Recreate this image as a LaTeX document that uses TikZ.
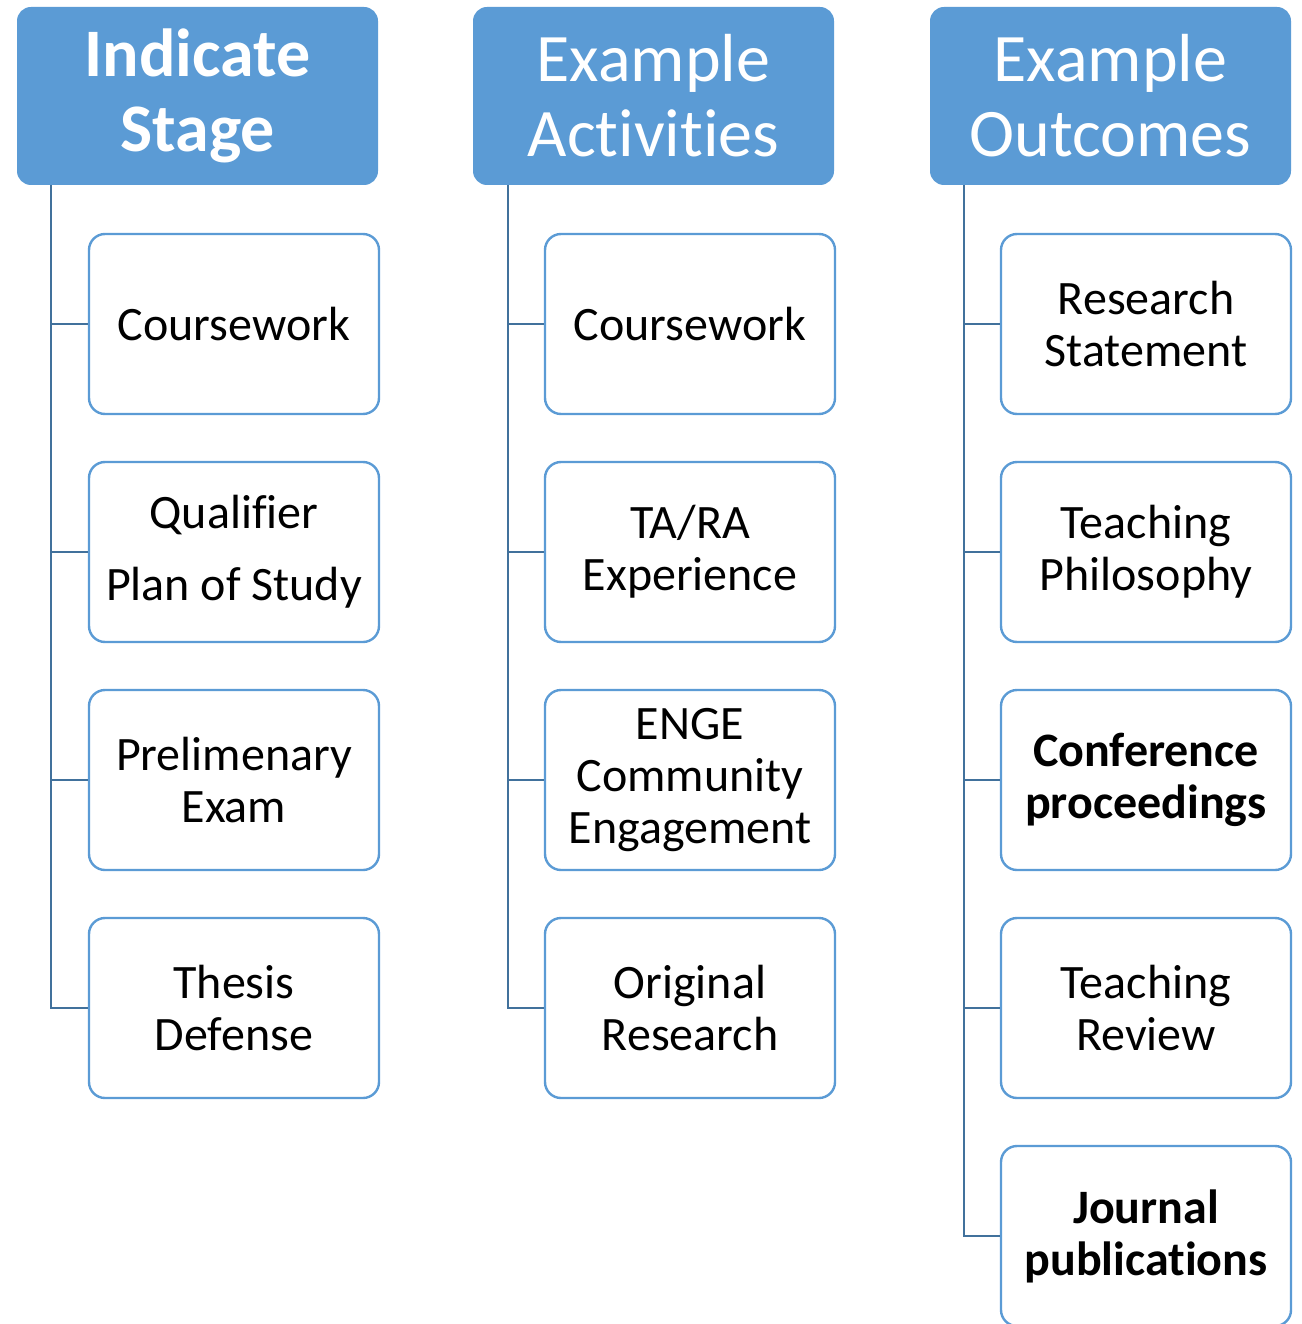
\documentclass[tikz,border=0pt]{standalone}
\usepackage{fontspec}
\setmainfont{Carlito}[Ligatures={NoCommon}]
\definecolor{hdrblue}{HTML}{5B9BD5}
\definecolor{linkblue}{HTML}{41719C}
\begin{document}
\begin{tikzpicture}[x=1pt,y=-1pt,
  header/.style={fill=hdrblue, draw=none, rounded corners=14pt,
    minimum width=361pt, minimum height=178pt, text=white,
    align=center, font=\fontsize{68}{75}\selectfont, inner sep=0pt},
  itembox/.style={draw=hdrblue, line width=2.4pt, fill=white, rounded corners=16pt,
    minimum width=290pt, minimum height=180pt, align=center,
    font=\fontsize{48}{52}\selectfont, inner sep=0pt},
  link/.style={draw=linkblue, line width=2.8pt}]
\useasboundingbox (0,0) rectangle (1301,1324);

% column headers
\node[header] (h1) at (197.5,96) {\bfseries Indicate\\\bfseries Stage};
\node[header] (h2) at (653.5,96) {Example\\Activities};
\node[header] (h3) at (1110.5,96) {Example\\Outcomes};

% first column
\node[itembox] (a1) at (234,324) {Coursework};
\node[itembox] (a2) at (234,552) {Qualifier\\[20pt]Plan of Study};
\node[itembox] (a3) at (234,780) {Prelimenary\\Exam};
\node[itembox] (a4) at (234,1008) {Thesis\\Defense};

% second column
\node[itembox] (b1) at (690,324) {Coursework};
\node[itembox] (b2) at (690,552) {TA/RA\\Experience};
\node[itembox] (b3) at (690,780) {ENGE\\Community\\Engagement};
\node[itembox] (b4) at (690,1008) {Original\\Research};

% third column
\node[itembox] (c1) at (1146,324) {Research\\Statement};
\node[itembox] (c2) at (1146,552) {Teaching\\Philosophy};
\node[itembox] (c3) at (1146,780) {\bfseries Conference\\\bfseries proceedings};
\node[itembox] (c4) at (1146,1008) {Teaching\\Review};
\node[itembox] (c5) at (1146,1236) {\bfseries Journal\\\bfseries publications};

% connectors: a spine down from each header, branching to every box
\foreach \h/\sx/\boxes in {h1/51/{a1,a2,a3,a4}, h2/508/{b1,b2,b3,b4}, h3/964/{c1,c2,c3,c4,c5}} {
  \foreach \b in \boxes {
    \draw[link] (\h.south -| \sx,0) |- (\b.west);
  }
}
\end{tikzpicture}
\end{document}
